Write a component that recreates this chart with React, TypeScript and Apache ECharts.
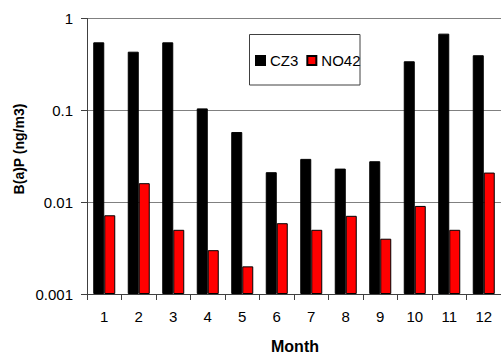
import React, { useEffect, useRef } from "react";
import * as echarts from "echarts";

const months = ["1", "2", "3", "4", "5", "6", "7", "8", "9", "10", "11", "12"];
// B(a)P concentrations, ng/m3
const cz3 = [0.55, 0.435, 0.55, 0.105, 0.058, 0.0212, 0.0296, 0.0232, 0.0279, 0.342, 0.684, 0.398];
const no42 = [0.0072, 0.0161, 0.005, 0.003, 0.002, 0.0059, 0.005, 0.0071, 0.004, 0.0091, 0.005, 0.021];
const yTickLabels = ["0.001", "0.01", "0.1", "1"];

// ECharts roots log-axis bars at value 1, so plot in pg/m3 (x1000) and label back in ng/m3
const PG_PER_NG = 1000;

export default function App() {
  const ref = useRef<HTMLDivElement>(null);
  useEffect(() => {
    if (!ref.current) return;
    const chart = echarts.init(ref.current, null, { renderer: "svg" });
    const font = "Liberation Sans, Arial, sans-serif";
    chart.setOption({
      animation: false,
      backgroundColor: "#ffffff",
      grid: { left: 87, top: 18.5, right: -3, bottom: 62, containLabel: false },
      legend: {
        left: 255,
        top: 53,
        z: 20,
        itemWidth: 9,
        itemHeight: 9,
        itemGap: 8,
        icon: "rect",
        padding: 0,
        textStyle: { fontFamily: font, fontSize: 15, color: "#000" },
        data: ["CZ3", "NO42"],
      },
      xAxis: {
        type: "category",
        data: months,
        axisLine: { lineStyle: { color: "#404040", width: 1 } },
        axisTick: { show: true, length: 6, lineStyle: { color: "#404040" } },
        axisLabel: { fontFamily: font, fontSize: 15, color: "#000", margin: 15 },
      },
      yAxis: {
        type: "log",
        logBase: 10,
        min: 1,
        max: 1000,
        axisLine: { show: true, lineStyle: { color: "#404040", width: 1 } },
        axisTick: { show: true, length: 6, lineStyle: { color: "#404040" } },
        axisLabel: {
          fontFamily: font,
          fontSize: 15,
          color: "#000",
          margin: 14,
          formatter: (v: number) => {
            const i = Math.round(Math.log10(v));
            return yTickLabels[i] ?? "";
          },
        },
        splitLine: { show: true, lineStyle: { color: "#808080", width: 1 } },
      },
      graphic: [
        {
          type: "rect",
          z: 1,
          shape: { x: 249.5, y: 34.5, width: 110.5, height: 50.5 },
          style: { fill: "#ffffff", stroke: "#404040", lineWidth: 1 },
          silent: true,
        },
        {
          type: "text",
          x: 19,
          y: 149,
          rotation: Math.PI / 2,
          style: {
            text: "B(a)P (ng/m3)",
            font: "bold 14px Liberation Sans, Arial, sans-serif",
            fill: "#000",
            textAlign: "center",
            textVerticalAlign: "middle",
          },
        },
        {
          type: "text",
          x: 295,
          y: 346,
          style: {
            text: "Month",
            font: "bold 16px Liberation Sans, Arial, sans-serif",
            fill: "#000",
            textAlign: "center",
            textVerticalAlign: "middle",
          },
        },
      ],
      series: [
        {
          name: "CZ3",
          type: "bar",
          data: cz3.map((v) => v * PG_PER_NG),
          barWidth: 11,
          barGap: "0%",
          itemStyle: { color: "#000000", borderColor: "#000000", borderWidth: 1 },
        },
        {
          name: "NO42",
          type: "bar",
          data: no42.map((v) => v * PG_PER_NG),
          barWidth: 11,
          barGap: "0%",
          itemStyle: { color: "#ff0000", borderColor: "#000000", borderWidth: 1 },
        },
      ],
    });
    return () => chart.dispose();
  }, []);
  return (
    <div
      ref={ref}
      style={{ position: "fixed", left: 0, top: 0, width: 501, height: 356, background: "#fff" }}
    />
  );
}
